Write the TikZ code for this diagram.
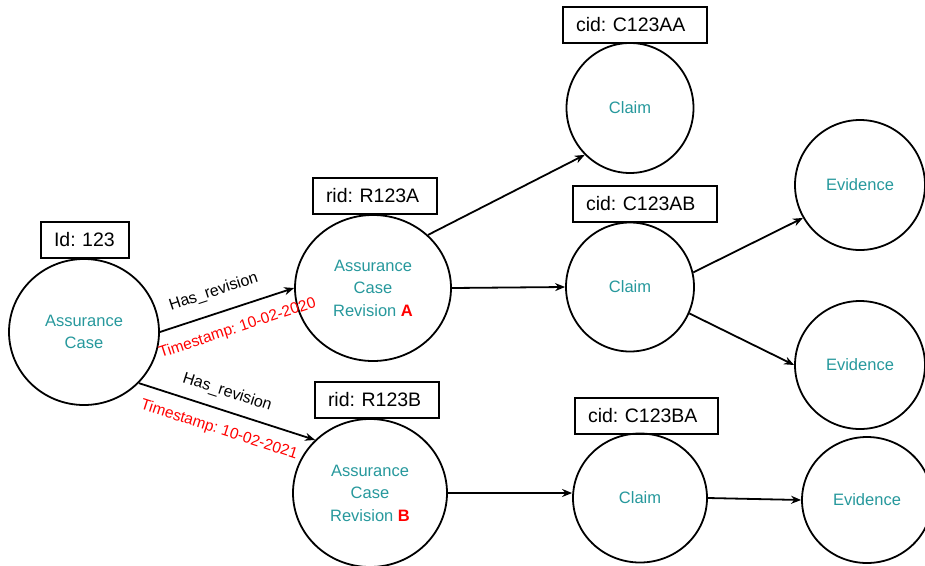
\documentclass[tikz,border=0pt]{standalone}
\usepackage{fontspec}
\setmainfont{Liberation Sans}
\usetikzlibrary{shapes.geometric,arrows.meta}
\definecolor{tealtext}{RGB}{38,152,156}
\begin{document}
\frenchspacing
\begin{tikzpicture}[x=1pt,y=-1pt,
  entity/.style={ellipse, draw, line width=1.8pt, inner sep=0pt, text=tealtext,
    align=center, font=\fontsize{16.5}{22.5}\selectfont},
  idbox/.style={draw, line width=1.8pt, inner xsep=13pt, inner ysep=0pt,
    minimum height=36pt, align=left, font=\fontsize{19.5}{22}\selectfont},
  link/.style={line width=1.8pt, -{Stealth[length=10pt,width=8pt]}},
  relname/.style={sloped, anchor=base, font=\fontsize{16}{18}\selectfont},
  stamp/.style={sloped, anchor=base, text=red, font=\fontsize{15.5}{18}\selectfont},
]
\useasboundingbox (0,0) rectangle (925,565);

% case, revisions, claims and evidence
\node[entity, minimum width=150pt, minimum height=146pt] (ac) at (84,332) {Assurance\\Case};
\node[entity, minimum width=156pt, minimum height=146pt] (reva) at (373,288)
  {Assurance\\Case\\Revision \textcolor{red}{\textbf{A}}};
\node[entity, minimum width=154pt, minimum height=148pt] (revb) at (370,493)
  {Assurance\\Case\\Revision \textcolor{red}{\textbf{B}}};
\node[entity, minimum width=127pt, minimum height=130pt] (claima) at (630,108) {Claim};
\node[entity, minimum width=128pt, minimum height=129pt] (claimb) at (630,287) {Claim};
\node[entity, minimum width=134pt, minimum height=129pt] (claimc) at (640,498) {Claim};
\node[entity, minimum width=130pt, minimum height=130pt] (eva) at (860,185) {Evidence};
\node[entity, minimum width=130pt, minimum height=128pt] (evb) at (860,365) {Evidence};
\node[entity, minimum width=130pt, minimum height=126pt] (evc) at (867,500) {Evidence};

% identifier boxes
\node[idbox, text width=62pt] (idac) at (85,240) {Id: 123};
\node[idbox, text width=98pt] (idreva) at (375,196) {rid: R123A};
\node[idbox, text width=98pt] (idrevb) at (377,400) {rid: R123B};
\node[idbox, text width=118pt] (idclaima) at (635,25) {cid: C123AA};
\node[idbox, text width=118pt] (idclaimb) at (645,204) {cid: C123AB};
\node[idbox, text width=117pt] (idclaimc) at (646.5,416) {cid: C123BA};

% revision links
\draw[link] (ac.east) -- (reva.west)
  node[relname, pos=.45, yshift=17pt] (hra) {Has\_revision}
  node[stamp, pos=.53, yshift=-25pt] (tsa) {Timestamp: 10-02-2020};
\draw[link] (ac.317) -- (revb.136)
  node[relname, pos=.47, yshift=14pt] (hrb) {Has\_revision}
  node[stamp, pos=.49, yshift=-24pt] (tsb) {Timestamp: 10-02-2021};

% claims and evidence
\draw[link] (reva.44) -- (claima.226);
\draw[link] (reva.east) -- (claimb.west);
\draw[link] (revb.east) -- (revb.east -| claimc.west);
\draw[link] (claimb.13) -- (eva.210);
\draw[link] (claimb.336) -- (evb.west);
\draw[link] (claimc.east) -- (evc.west);
\end{tikzpicture}
\end{document}
